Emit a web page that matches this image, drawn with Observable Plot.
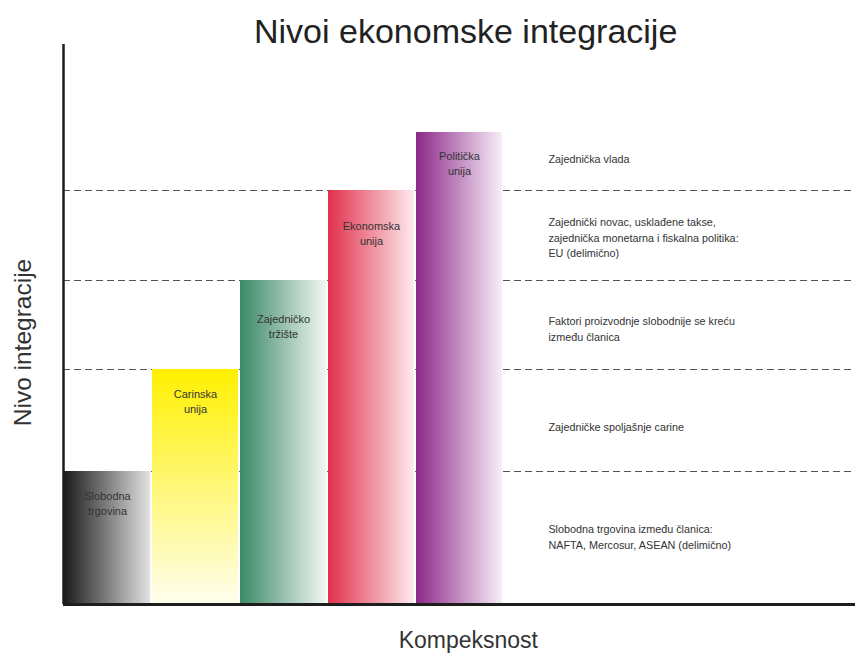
<!DOCTYPE html>
<html><head><meta charset="utf-8">
<script src="https://cdn.jsdelivr.net/npm/d3@7"></script>
<script src="https://cdn.jsdelivr.net/npm/@observablehq/plot@0.6"></script>
<style>body{margin:0;background:#fff;font-family:"Liberation Sans",Arial,sans-serif}</style>
</head><body><div id="chart"></div>
<script>
// ---- data ----
const stages = ["Slobodna\ntrgovina", "Carinska\nunija", "Zajedničko\ntržište", "Ekonomska\nunija", "Politička\nunija"];
const levels = [1.33, 2.35, 3.24, 4.14, 4.72];
const stageLabelY = [1.02, 2.04, 2.79, 3.72, 4.42];
const boundaries = [1.33, 2.35, 3.24, 4.14];
const descriptions = [
  "Slobodna trgovina između članica:\nNAFTA, Mercosur, ASEAN (delimično)",
  "Zajedničke spoljašnje carine",
  "Faktori proizvodnje slobodnije se kreću\nizmeđu članica",
  "Zajednički novac, usklađene takse,\nzajednička monetarna i fiskalna politika:\nEU (delimično)",
  "Zajednička vlada"
];
const descY = [0.69, 1.79, 2.77, 3.68, 4.47];
const title = "Nivoi ekonomske integracije";
const xTitle = "Kompeksnost";
const yTitle = "Nivo integracije";

// ---- styles ----
const gradients = [
  {id: "g0", dir: "h", from: "#1c1a1a", to: "#e2e2e2"},
  {id: "g1", dir: "v", from: "#fff000", to: "#fffeee"},
  {id: "g2", dir: "h", from: "#3a8967", to: "#f2f7f4"},
  {id: "g3", dir: "h", from: "#e1304c", to: "#fdebee"},
  {id: "g4", dir: "h", from: "#8c2889", to: "#f7eef7"}
];

const bars = stages.map((s, i) => ({
  stage: s, x1: i, x2: i + 1, level: levels[i], ly: stageLabelY[i], grad: `url(#${gradients[i].id})`
}));
const desc = descriptions.map((t, i) => ({text: t, y: descY[i], x: 5.51}));

const svg = Plot.plot({
  width: 857,
  height: 660,
  marginLeft: 63,
  marginRight: 2,
  marginTop: 44,
  marginBottom: 56,
  x: {domain: [0, 9], axis: null},
  y: {domain: [0, 5.6], axis: null},
  color: {type: "identity"},
  style: {fontFamily: "'Liberation Sans', Arial, sans-serif", background: "#fff"},
  marks: [
    Plot.ruleY(boundaries, {x1: 0, x2: 9, stroke: "#555", strokeWidth: 1, strokeDasharray: "7,4"}),
    Plot.rectY(bars, {x1: "x1", x2: "x2", y: "level", fill: "grad", insetLeft: 1, insetRight: 1}),
    Plot.text(bars, {x: d => (d.x1 + d.x2) / 2, y: "ly", text: "stage", fontSize: 11, fill: "#333", lineHeight: 1.36}),
    Plot.text(desc, {x: "x", y: "y", text: "text", textAnchor: "start", fontSize: 10.8, fill: "#333", lineHeight: 1.47}),
    Plot.ruleX([0], {y1: 0, y2: 5.6, stroke: "#1e1e1e", strokeWidth: 2.5}),
    Plot.ruleY([0], {x1: 0, x2: 9, stroke: "#1e1e1e", strokeWidth: 3}),
    Plot.text([title], {x: 4.57, y: 5.72, fontSize: 34, fill: "#222"}),
    Plot.text([xTitle], {x: 4.6, y: -0.36, fontSize: 23, fill: "#333"}),
    Plot.text([yTitle], {x: -0.46, y: 2.62, rotate: -90, fontSize: 24.5, fill: "#333"})
  ]
});

const defs = d3.select(svg).insert("defs", ":first-child");
gradients.forEach(g => {
  const lg = defs.append("linearGradient").attr("id", g.id)
    .attr("x1", 0).attr("y1", 0)
    .attr("x2", g.dir === "h" ? 1 : 0).attr("y2", g.dir === "h" ? 0 : 1);
  lg.append("stop").attr("offset", 0).attr("stop-color", g.from);
  lg.append("stop").attr("offset", 1).attr("stop-color", g.to);
});

document.getElementById("chart").appendChild(svg);
</script>
</body></html>
